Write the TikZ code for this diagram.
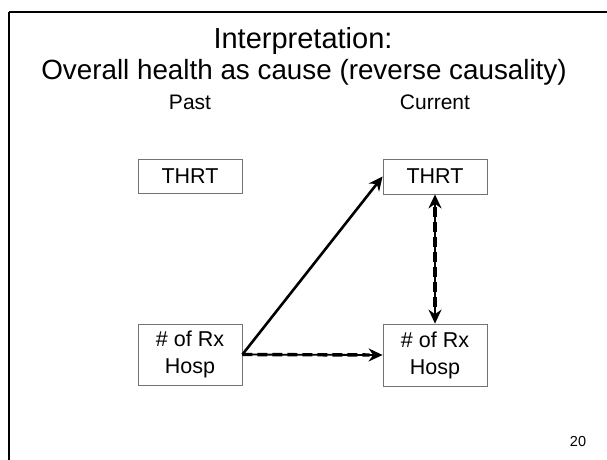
\documentclass[tikz,border=0pt]{standalone}
\usepackage{fontspec}
\setmainfont{Liberation Sans}
\usetikzlibrary{arrows.meta}
\begin{document}
\begin{tikzpicture}[x=1pt,y=-1pt,
  box/.style={draw=black!55, line width=0.8pt, minimum width=104pt, align=center, inner sep=0pt, font=\fontsize{21.5}{27}\selectfont},
  lbl/.style={font=\fontsize{21}{24}\selectfont, inner sep=0pt},
  arr/.style={line width=2.6pt, -{Stealth[length=14pt,width=13pt]}},
  darr/.style={line width=2.6pt, {Stealth[length=14pt,width=13pt]}-{Stealth[length=14pt,width=13pt]}}]
\useasboundingbox (0,0) rectangle (607,459);
\draw[line width=2pt] (9,12) -- (620,12);
\draw[line width=2pt] (9,12) -- (9,470);
\node[font=\fontsize{29}{32}\selectfont, inner sep=0pt] (title) at (303,41) {Interpretation:};
\node[font=\fontsize{27.8}{30}\selectfont, inner sep=0pt] (sub) at (304,72) {Overall health as cause (reverse causality)};
\node[lbl] (past) at (190,102) {Past};
\node[lbl] (cur) at (435,102) {Current};
\node[box, minimum height=34pt] (pthrt) at (190,176) {THRT};
\node[box, minimum height=61pt] (prx) at (190,354.5) {\# of Rx\\Hosp};
\node[box, minimum height=35pt] (cthrt) at (435,176.5) {THRT};
\node[box, minimum height=62pt] (crx) at (435,355) {\# of Rx\\Hosp};
\draw[arr] (prx.east) -- (cthrt.west);
\draw[arr, line width=1.8pt] (prx.east) -- (crx.west);
\draw[line width=3.4pt, dash pattern=on 10pt off 5pt, shorten >=13pt] (prx.east) -- (crx.west);
\draw[darr, line width=1.8pt] (cthrt.south) -- (crx.north);
\draw[line width=3.4pt, dash pattern=on 10pt off 5pt, shorten >=13pt, shorten <=13pt] (cthrt.south) -- (crx.north);
\node[font=\fontsize{14.5}{16}\selectfont, inner sep=0pt] (num) at (578,441) {20};
\end{tikzpicture}
\end{document}
